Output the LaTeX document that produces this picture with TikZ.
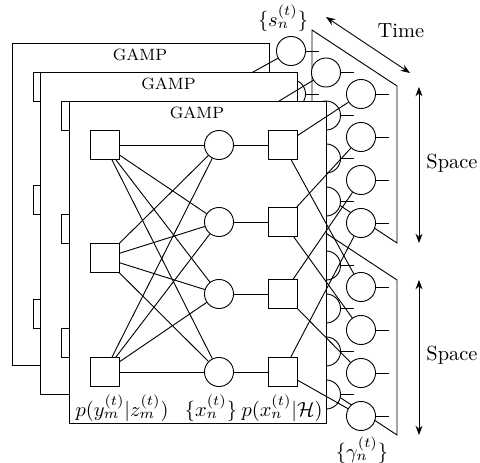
\documentclass[tikz,border=0pt]{standalone}
\usepackage{amsmath,amssymb,amsfonts}
\usepackage{tikz}
\usetikzlibrary{arrows.meta,positioning,calc}

\tikzset{
  facnode/.style={draw, fill=white, minimum size=5mm, inner sep=0pt},
  varnode/.style={draw, circle, fill=white, minimum size=5mm, inner sep=0pt},
  gampbox/.style={draw, fill=white},
  axis arrow/.style={{Stealth[length=1.6mm]}-{Stealth[length=1.6mm]}},
}

\begin{document}
\begin{tikzpicture}[x=0.172mm, y=-0.172mm, line width=0.45pt]
  \useasboundingbox (0,0) rectangle (480,463);
  % Space-time planes
  \draw (312,30) -- (397,86) -- (397,243) -- (312,187) -- cycle;
  \draw (312,224) -- (397,280) -- (397,435) -- (312,379) -- cycle;
  % GAMP layers, back to front
  \foreach \k in {0,1,2} {
    \pgfmathsetmacro{\cx}{291+35*\k}
    \pgfmathsetmacro{\cy}{51+21.5*\k}
    \begin{scope}[shift={(28.5*\k,29*\k)}]
      \draw[gampbox] (12,43) rectangle (269,365);
      \node[font=\footnotesize] (gamp\k) at (140,55) {GAMP};
      \node[facnode] (ly\k1) at (47.5,87) {};
      \node[facnode] (ly\k2) at (47.5,200) {};
      \node[facnode] (ly\k3) at (47.5,314) {};
      \foreach \n/\y in {1/87,2/164,3/236,4/314} {
        \node[varnode] (x\k\n) at (162,\y) {};
        \node[facnode] (px\k\n) at (226,\y) {};
      }
    \end{scope}
    \foreach \n in {1,...,4} {
      \node[varnode] (s\k\n) at (\cx,{\cy+43*(\n-1)}) {};
      \node[varnode] (g\k\n) at (\cx,{\cy+193+43*(\n-1)}) {};
      \draw (s\k\n.east) -- ++(13,0);
      \draw (g\k\n.east) -- ++(13,0);
    }
    % Edges
    \foreach \m in {1,2,3}
      \foreach \n in {1,...,4}
        \draw (ly\k\m) -- (x\k\n);
    \foreach \n in {1,...,4} {
      \draw (x\k\n) -- (px\k\n);
      \draw (px\k\n) -- (s\k\n);
      \draw (px\k\n) -- (g\k\n);
    }
  }
  % Labels
  \node (ylab) at (122,408) {$p(y_m^{(t)}|z_m^{(t)})$};
  \node (xlab) at (211,408) {$\{x_n^{(t)}\}$};
  \node[anchor=east, inner sep=1pt] (hlab) at (325,408) {$p(x_n^{(t)}|\mathcal{H})$};
  \node (slab) at (283,18) {$\{s_n^{(t)}\}$};
  \node (glab) at (362,450) {$\{\gamma_n^{(t)}\}$};
  % Axes
  \coordinate (time0) at (326,17);
  \coordinate (time1) at (410,73);
  \coordinate (spa0) at (419,87);
  \coordinate (spa1) at (419,243);
  \coordinate (spb0) at (419,280);
  \coordinate (spb1) at (419,435);
  \draw[axis arrow] (time0) -- (time1);
  \draw[axis arrow] (spa0) -- (spa1);
  \draw[axis arrow] (spb0) -- (spb1);
  \node (time) at (401,31) {Time};
  \node (spacea) at (452,163) {Space};
  \node (spaceb) at (452,355) {Space};
\end{tikzpicture}
\end{document}
